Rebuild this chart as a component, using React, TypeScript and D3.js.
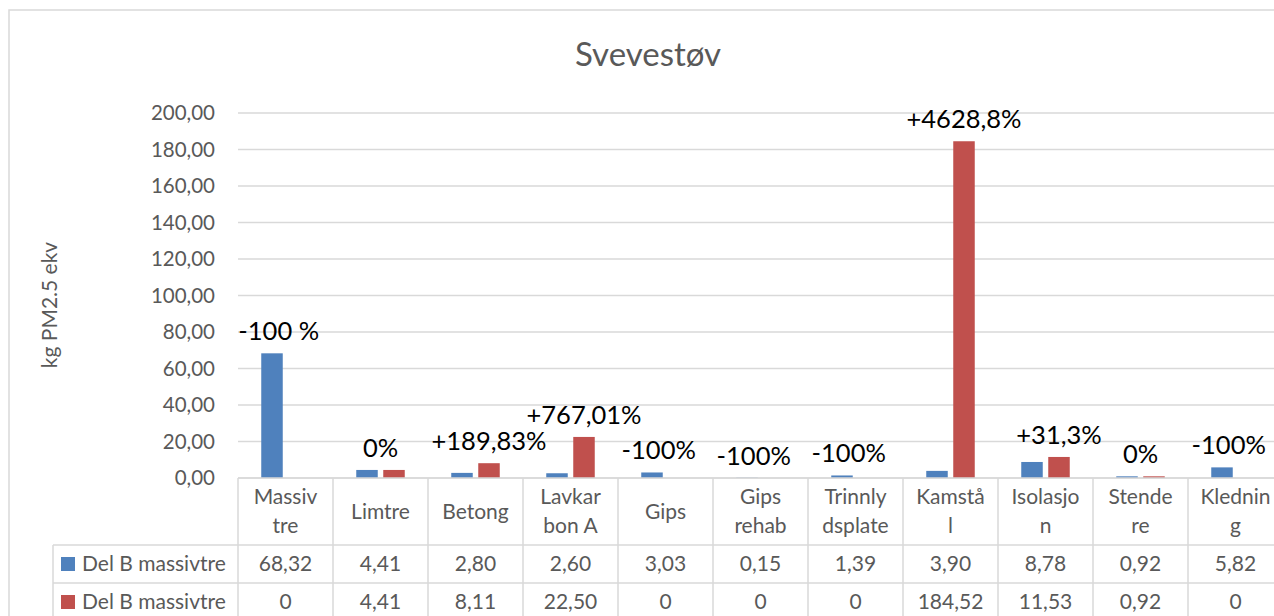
import React from 'react';
import * as d3 from 'd3';

// chart data
const categories = ["Massivtre", "Limtre", "Betong", "Lavkarbon A", "Gips", "Gips rehab",
  "Trinnlydsplate", "Kamstål", "Isolasjon", "Stendere", "Kledning"];
// wrapped header text as it appears in the data table
const categoryLines = [["Massiv", "tre"], ["Limtre"], ["Betong"], ["Lavkar", "bon A"], ["Gips"],
  ["Gips", "rehab"], ["Trinnly", "dsplate"], ["Kamstå", "l"], ["Isolasjo", "n"], ["Stende", "re"], ["Klednin", "g"]];
const seriesNames = ["Del B massivtre", "Del B massivtre"];
const blueValues = [68.32, 4.41, 2.80, 2.60, 3.03, 0.15, 1.39, 3.90, 8.78, 0.92, 5.82];
const redValues = [0, 4.41, 8.11, 22.50, 0, 0, 0, 184.52, 11.53, 0.92, 0];
const changeLabels = ["-100 %", "0%", "+189,83%", "+767,01%", "-100%", "-100%", "-100%",
  "+4628,8%", "+31,3%", "0%", "-100%"];
const yTicks = [0, 20, 40, 60, 80, 100, 120, 140, 160, 180, 200];

const W = 1274, H = 616;
const FONT = "Lato, 'Open Sans', sans-serif";
const GRAY = "#595959";
const GRID = "#d9d9d9";
const colors = ["#4f81bd", "#c0504d"];

const fmt = (v: number) => v.toFixed(2).replace('.', ',');
const fmtCell = (v: number) => (v === 0 ? "0" : fmt(v));

export default function App() {
  const x = d3.scaleBand().domain(categories).range([238, 1283]);
  const y = d3.scaleLinear().domain([0, 200]).range([478, 113]);
  const bw = 21.5, gap = 5.5;
  const rowTop = [478, 545, 583, 621];
  const series = [blueValues, redValues];

  return (
    <svg width={W} height={H} style={{ position: 'absolute', left: 0, top: 0, background: '#fff' }}
      fontFamily={FONT}>
      <rect x={9} y={10} width={W + 20} height={H + 20} fill="#fff" stroke={GRID} strokeWidth={1.5} />

      <text x={648} y={66} textAnchor="middle" fontSize={33} fill={GRAY}>Svevestøv</text>

      <text transform="translate(57,305) rotate(-90)" textAnchor="middle" fontSize={21} fill={GRAY}>
        kg PM2.5 ekv
      </text>

      {/* gridlines + tick labels */}
      {yTicks.map(t => (
        <g key={t}>
          <line x1={238} x2={1283} y1={y(t)} y2={y(t)} stroke={GRID} strokeWidth={1.5} />
          <text x={215} y={y(t)} dy="0.35em" textAnchor="end" fontSize={20.5} fill={GRAY}>{fmt(t)}</text>
        </g>
      ))}

      {/* bars */}
      {series.map((vals, s) => (
        <g key={s} fill={colors[s]}>
          {vals.map((v, i) => {
            const cx = x(categories[i])! + x.bandwidth() / 2;
            const bx = s === 0 ? cx - gap / 2 - bw : cx + gap / 2;
            return <rect key={i} x={bx} y={y(v)} width={bw} height={y(0) - y(v)} />;
          })}
        </g>
      ))}

      {/* change labels: over the red bar when it is taller, else a bit left of centre */}
      {changeLabels.map((lab, i) => {
        const cx = x(categories[i])! + x.bandwidth() / 2;
        const b = blueValues[i], r = redValues[i];
        const lx = r > b ? cx + gap / 2 + bw / 2 : r === b ? cx : cx - (gap / 2 + bw / 2) / 2;
        const top = y(Math.max(b, r));
        return (
          <text key={i} x={lx} y={top - 13} textAnchor="middle" fontSize={25.5} fill="#000">{lab}</text>
        );
      })}

      {/* data table */}
      <g stroke={GRID} strokeWidth={1.5}>
        <line x1={238} x2={1283} y1={rowTop[0]} y2={rowTop[0]} />
        {rowTop.slice(1).map((r, k) => (
          <line key={k} x1={53} x2={1283} y1={r} y2={r} />
        ))}
        <line x1={53} x2={53} y1={rowTop[1]} y2={H + 10} />
        {categories.map((c, i) => (
          <line key={c} x1={x(c)!} x2={x(c)!} y1={rowTop[0]} y2={H + 10} />
        ))}
        <line x1={1283} x2={1283} y1={rowTop[0]} y2={H + 10} />
      </g>

      {categoryLines.map((lines, i) => {
        const cx = x(categories[i])! + x.bandwidth() / 2;
        const mid = (rowTop[0] + rowTop[1]) / 2;
        return (
          <text key={i} x={cx} textAnchor="middle" fontSize={21} fill={GRAY}>
            {lines.map((ln, k) => (
              <tspan key={k} x={cx} y={mid + (k - (lines.length - 1) / 2) * 29} dy="0.35em">{ln}</tspan>
            ))}
          </text>
        );
      })}

      {series.map((vals, s) => {
        const mid = (rowTop[s + 1] + rowTop[s + 2]) / 2;
        return (
          <g key={s}>
            <rect x={61} y={mid - 7} width={14} height={14} fill={colors[s]} />
            <text x={82} y={mid} dy="0.35em" fontSize={21} fill={GRAY}>{seriesNames[s]}</text>
            {vals.map((v, i) => (
              <text key={i} x={x(categories[i])! + x.bandwidth() / 2} y={mid} dy="0.35em"
                textAnchor="middle" fontSize={21} fill={GRAY}>{fmtCell(v)}</text>
            ))}
          </g>
        );
      })}
    </svg>
  );
}
